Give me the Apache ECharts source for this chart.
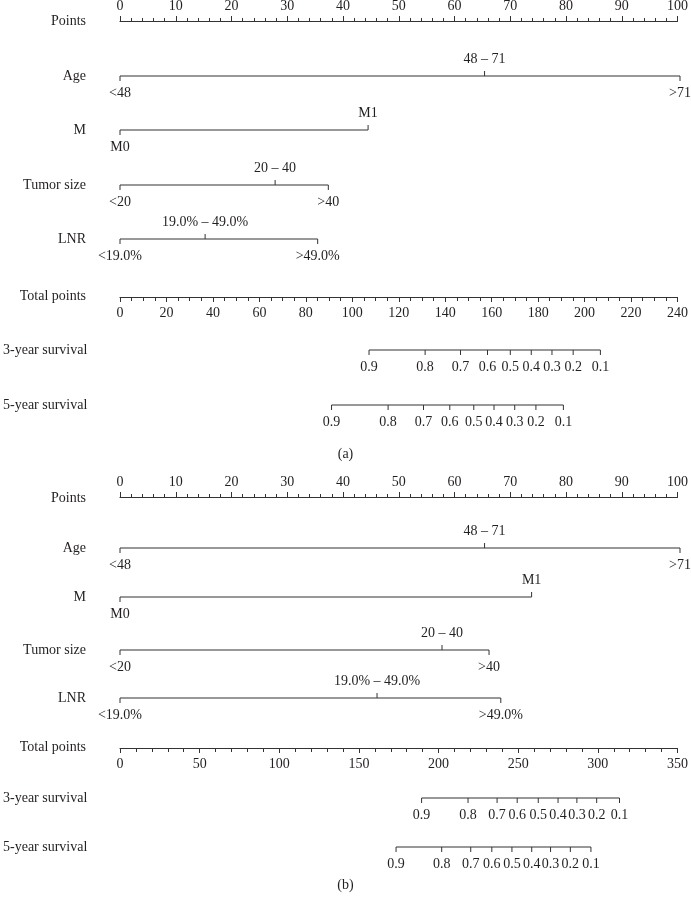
<!DOCTYPE html>
<html><head><meta charset="utf-8">
<script src="https://cdn.jsdelivr.net/npm/echarts@6/dist/echarts.min.js"></script>
<style>html,body{margin:0;padding:0;background:#fff}#c{width:691px;height:905px}</style>
</head><body><div id="c"></div>
<script>
// ---------- data ----------
const rowNames = ['Points','Age','M','Tumor size','LNR','Total points','3-year survival','5-year survival'];
const ageLevels = ['<48','48 – 71','>71'];
const mLevels = ['M0','M1'];
const tumorLevels = ['<20','20 – 40','>40'];
const lnrLevels = ['<19.0%','19.0% – 49.0%','>49.0%'];
const survLevels = ['0.9','0.8','0.7','0.6','0.5','0.4','0.3','0.2','0.1'];
const pointsMax = 100;
// panel (a)
const agePtsA = [0, 65.1, 100];
const mPtsA = [0, 44.3];
const tumorPtsA = [0, 27.7, 37.2];
const lnrPtsA = [0, 15.2, 35.3];
const totalMaxA = 240;
const surv3A = [106.4, 130.5, 145.7, 157.3, 167.1, 176.1, 185.0, 194.1, 205.8];
const surv5A = [90.3, 114.6, 129.8, 141.1, 151.4, 160.1, 169.0, 178.1, 189.9];
// panel (b)
const agePtsB = [0, 65.1, 100];
const mPtsB = [0, 73.5];
const tumorPtsB = [0, 57.5, 65.9];
const lnrPtsB = [0, 45.9, 68.0];
const totalMaxB = 350;
const surv3B = [188.1, 217.2, 235.4, 248.0, 261.2, 273.6, 285.4, 297.8, 312.1];
const surv5B = [172.1, 200.7, 218.9, 232.1, 244.7, 257.1, 268.9, 281.3, 294.2];

// ---------- layout ----------
const FONT = '"Liberation Serif","DejaVu Serif",serif';
const TXT = '#231f20';
const LINE = '#333333';
const rowYA = [20, 76, 130, 185, 239, 296, 350, 405];
const rowYB = [498, 548, 597, 650, 698, 747, 798, 847];

const grids = [], xAxes = [], yAxes = [], series = [];

function addRow(y, name, axisCfg, scale) {
  const i = grids.length;
  grids.push({left: 120, right: 11, top: y - 1, height: 2});
  xAxes.push(Object.assign({gridIndex: i, type: 'value', splitLine: {show: false}}, axisCfg));
  yAxes.push({gridIndex: i, type: 'category', data: [name],
    axisLine: {show: false}, axisTick: {show: false}, splitLine: {show: false},
    axisLabel: {fontSize: 14, color: TXT, fontFamily: FONT, margin: 34}});
  if (scale) {
    const vals = scale.values, labels = scale.labels, alt = scale.alternate;
    const lo = Math.min.apply(null, vals), hi = Math.max.apply(null, vals);
    series.push({
      type: 'custom', xAxisIndex: i, yAxisIndex: i, clip: false, silent: true,
      data: vals.map((v, j) => [v, 0, j]),
      renderItem: function (params, api) {
        const j = api.value(2);
        const p = api.coord([api.value(0), 0]);
        const up = alt && (j % 2 === 1);
        const dir = up ? -1 : 1;
        const children = [];
        if (j === 0) {
          const a = api.coord([lo, 0]), b = api.coord([hi, 0]);
          children.push({type: 'line', shape: {x1: a[0], y1: a[1], x2: b[0], y2: b[1]},
            style: {stroke: LINE, lineWidth: 1.2}});
        }
        children.push({type: 'line', shape: {x1: p[0], y1: p[1], x2: p[0], y2: p[1] + dir * 5},
          style: {stroke: LINE, lineWidth: 1}});
        children.push({type: 'text', style: {text: labels[j], x: p[0], y: p[1] + dir * 17,
          textAlign: 'center', textVerticalAlign: 'middle', fontSize: 14, fontFamily: FONT, fill: TXT}});
        return {type: 'group', children: children};
      }
    });
  }
}

function hidden(max) { return {min: 0, max: max, show: false}; }
function pointsAxis() {
  return {min: 0, max: pointsMax, interval: 10, position: 'top',
    axisLine: {show: true, lineStyle: {color: LINE, width: 1.2}},
    axisTick: {show: true, length: 5, lineStyle: {color: LINE}},
    minorTick: {show: true, splitNumber: 5, length: 3, lineStyle: {color: LINE}},
    axisLabel: {fontSize: 14, color: TXT, fontFamily: FONT, margin: 8}};
}
function totalAxis(max, interval, minorSplit) {
  return {min: 0, max: max, interval: interval, position: 'bottom',
    axisLine: {show: true, lineStyle: {color: LINE, width: 1.2}},
    axisTick: {show: true, length: 5, lineStyle: {color: LINE}},
    minorTick: {show: true, splitNumber: minorSplit, length: 4, lineStyle: {color: LINE}},
    axisLabel: {fontSize: 14, color: TXT, fontFamily: FONT, margin: 9}};
}

function panel(ys, pts, totalMax, interval, minorSplit, s3, s5) {
  addRow(ys[0], rowNames[0], pointsAxis(), null);
  addRow(ys[1], rowNames[1], hidden(pointsMax), {values: pts.age, labels: ageLevels, alternate: true});
  addRow(ys[2], rowNames[2], hidden(pointsMax), {values: pts.m, labels: mLevels, alternate: true});
  addRow(ys[3], rowNames[3], hidden(pointsMax), {values: pts.tumor, labels: tumorLevels, alternate: true});
  addRow(ys[4], rowNames[4], hidden(pointsMax), {values: pts.lnr, labels: lnrLevels, alternate: true});
  addRow(ys[5], rowNames[5], totalAxis(totalMax, interval, minorSplit), null);
  addRow(ys[6], rowNames[6], hidden(totalMax), {values: s3, labels: survLevels, alternate: false});
  addRow(ys[7], rowNames[7], hidden(totalMax), {values: s5, labels: survLevels, alternate: false});
}

panel(rowYA, {age: agePtsA, m: mPtsA, tumor: tumorPtsA, lnr: lnrPtsA}, totalMaxA, 20, 4, surv3A, surv5A);
panel(rowYB, {age: agePtsB, m: mPtsB, tumor: tumorPtsB, lnr: lnrPtsB}, totalMaxB, 50, 5, surv3B, surv5B);

const chart = echarts.init(document.getElementById('c'), null, {renderer: 'canvas'});
chart.setOption({
  animation: false,
  backgroundColor: '#ffffff',
  title: [
    {text: '(a)', left: 'center', top: 442, textStyle: {fontSize: 14, fontWeight: 'normal', fontFamily: FONT, color: TXT}},
    {text: '(b)', left: 'center', top: 873, textStyle: {fontSize: 14, fontWeight: 'normal', fontFamily: FONT, color: TXT}}
  ],
  grid: grids, xAxis: xAxes, yAxis: yAxes, series: series
});
</script></body></html>
